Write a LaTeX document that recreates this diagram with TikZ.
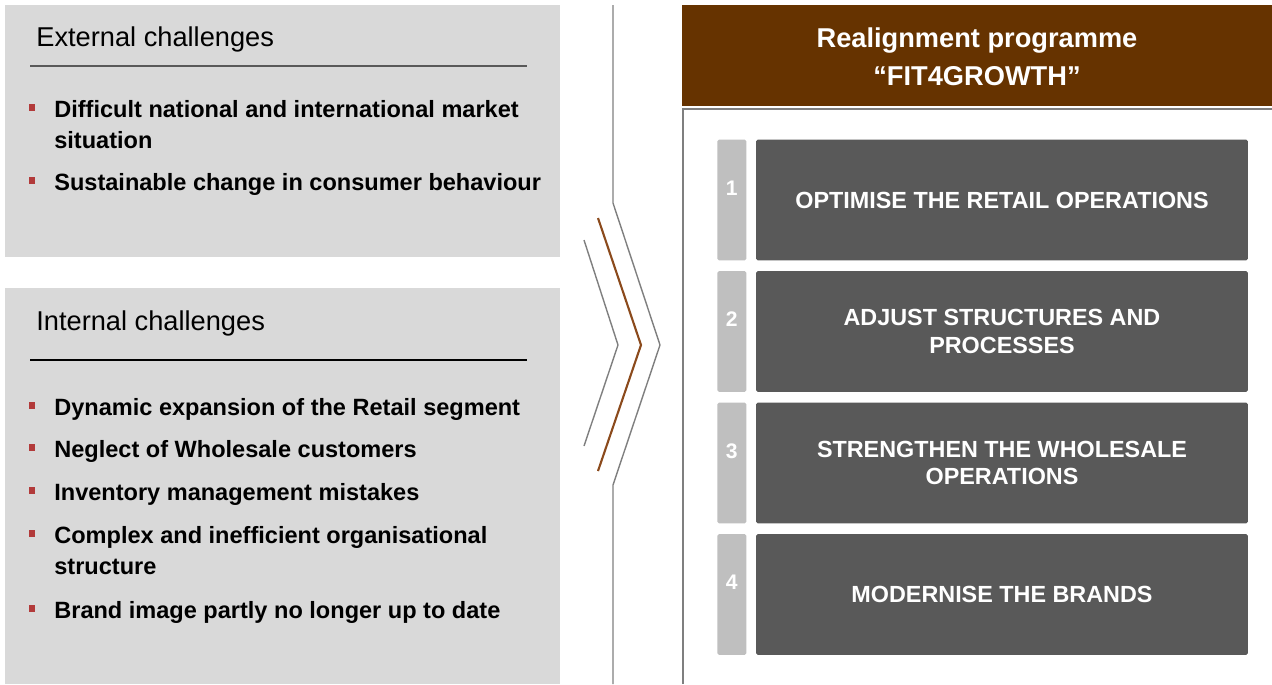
\documentclass[tikz,border=0pt]{standalone}
\usepackage{fontspec}
\setmainfont{Liberation Sans}
\usepackage{tikz}
\usetikzlibrary{positioning, calc}
\definecolor{panelgrey}{HTML}{D9D9D9}
\definecolor{bulletred}{HTML}{B23A3A}
\definecolor{headerbrown}{HTML}{663300}
\definecolor{chevronbrown}{HTML}{8B4A1C}
\definecolor{chevrongrey}{HTML}{7F7F7F}
\definecolor{stepdark}{HTML}{595959}
\definecolor{steplight}{HTML}{BFBFBF}

\begin{document}
\begin{tikzpicture}[x=0.02cm, y=-0.02cm,
  head/.style={anchor=base west, inner sep=0, font=\fontsize{15.5}{18}\selectfont},
  item/.style={anchor=base west, inner sep=0, align=left, font=\bfseries\fontsize{13.4}{17.6}\selectfont},
  sq/.style={fill=bulletred, minimum size=0.14cm, inner sep=0},
  stepbox/.style={fill=stepdark, rounded corners=1pt, minimum width=9.84cm, minimum height=2.42cm,
    align=center, text=white, font=\bfseries\fontsize{13.3}{15.5}\selectfont},
  numbox/.style={fill=steplight, rounded corners=1pt, minimum width=0.58cm, minimum height=2.42cm, inner sep=0},
  numlabel/.style={text=white, font=\bfseries\fontsize{12}{14}\selectfont, inner sep=0}]
  \useasboundingbox (0,0) rectangle (1272,684);

  % Left panels
  \fill[panelgrey] (5,5) rectangle (560,257);
  \fill[panelgrey] (5,288) rectangle (560,684);
  \node[head] (exthead) at (36,46) {External challenges};
  \draw[stepdark, line width=0.8pt] (30,66) -- (527,66);
  \node[head] (inthead) at (36,330) {Internal challenges};
  \draw[black, line width=0.6pt] (30,360) -- (527,360);

  % Bullets (first and last baseline)
  \foreach \y/\l/\txt [count=\i] in {117/148/{Difficult national and international market\\situation},
      190/190/{Sustainable change in consumer behaviour}} {
    \node[item] (ext\i) at (54,\l) {\txt};
    \node[sq] (extsq\i) at (32,\y-10) {};
  }
  \foreach \y/\l/\txt [count=\i] in {415/415/{Dynamic expansion of the Retail segment},
      457/457/{Neglect of Wholesale customers},
      500/500/{Inventory management mistakes},
      543/574/{Complex and inefficient organisational\\structure},
      618/618/{Brand image partly no longer up to date}} {
    \node[item] (int\i) at (54,\l) {\txt};
    \node[sq] (intsq\i) at (32,\y-10) {};
  }

  % Chevron
  \draw[chevrongrey, line width=0.8pt] (613,5) -- (613,203) -- (660,345) -- (613,485) -- (613,684);
  \draw[chevronbrown, line width=1.2pt] (598,218) -- (641,345) -- (598,471);
  \draw[chevrongrey, line width=0.8pt] (584,240) -- (618,345) -- (584,446);

  % Programme
  \fill[headerbrown] (682,5) rectangle (1272,106);
  \node[text=white, align=center, font=\bfseries\fontsize{15.5}{21.5}\selectfont] (title) at (977,57)
    {Realignment programme\\“FIT4GROWTH”};
  \draw[chevrongrey, line width=0.8pt] (683,684) -- (683,109) -- (1272,109);
  \foreach \n/\txt in {1/{OPTIMISE THE RETAIL OPERATIONS},
      2/{ADJUST STRUCTURES AND\\PROCESSES},
      3/{STRENGTHEN THE WHOLESALE\\OPERATIONS},
      4/{MODERNISE THE BRANDS}} {
    \node[stepbox] (step\n) at (1002,{200+(\n-1)*131.5}) {\txt};
    \node[numbox, left=0.18cm of step\n] (num\n) {};
    \node[numlabel] (lbl\n) at ([yshift=0.24cm]num\n.center) {\n};
  }
\end{tikzpicture}
\end{document}
